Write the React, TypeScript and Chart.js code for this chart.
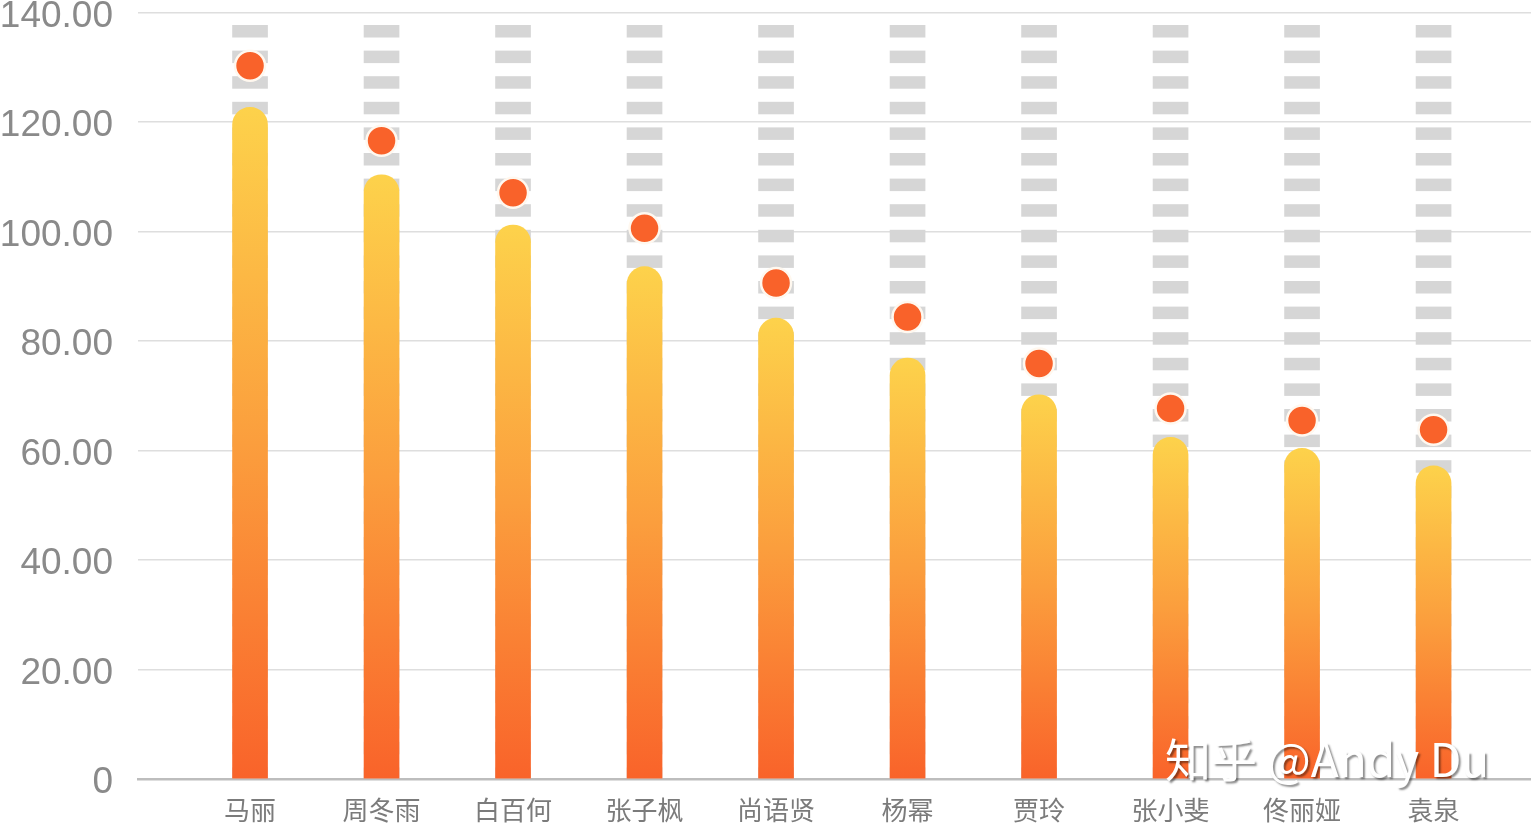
import React, { useEffect, useRef } from "react";
import { Chart, registerables } from "chart.js";

Chart.register(...registerables);

const categories = ["马丽", "周冬雨", "白百何", "张子枫", "尚语贤", "杨幂", "贾玲", "张小斐", "佟丽娅", "袁泉"];
const barValues = [122.7, 110.4, 101.2, 93.6, 84.2, 76.9, 70.2, 62.4, 60.4, 57.2];
const dotValues = [130.3, 116.6, 107.1, 100.6, 90.6, 84.4, 75.9, 67.7, 65.5, 63.8];
const trackValues = [138, 138, 138, 138, 138, 138, 138, 138, 138, 138];
const yTicks = [0, 20, 40, 60, 80, 100, 120, 140];
const watermark = "知乎 @Andy Du";

function makeDashPattern(ctx: CanvasRenderingContext2D): CanvasPattern | string {
  const c = document.createElement("canvas");
  c.width = 8;
  c.height = 128;
  const p = c.getContext("2d");
  if (!p) return "#d6d6d6";
  p.fillStyle = "#d6d6d6";
  for (let k = 0; k < 5; k++) {
    const y = (25 + 25.6 * k) % 128;
    p.fillRect(0, y, 8, 12.5);
    if (y + 12.5 > 128) p.fillRect(0, y - 128, 8, 12.5);
  }
  return ctx.createPattern(c, "repeat") || "#d6d6d6";
}

export default function App() {
  const ref = useRef<HTMLCanvasElement | null>(null);

  useEffect(() => {
    const canvas = ref.current;
    if (!canvas) return;
    const c2d = canvas.getContext("2d")!;
    const pattern = makeDashPattern(c2d);

    const toPoints = (arr: number[]) => arr.map((v, i) => ({ x: i, y: v }));

    const gradientFill = (ctx: any) => {
      const chart = ctx.chart;
      if (!chart.chartArea || !ctx.raw) return "#fb9a3c";
      const ys = chart.scales.y;
      const top = ys.getPixelForValue(ctx.raw.y);
      const bottom = ys.getPixelForValue(0);
      const g = chart.ctx.createLinearGradient(0, top, 0, bottom);
      g.addColorStop(0, "#fdd24b");
      g.addColorStop(0.5, "#fb9e3d");
      g.addColorStop(1, "#f9632a");
      return g;
    };

    const watermarkPlugin = {
      id: "watermark",
      afterDraw(chart: any) {
        const ctx = chart.ctx;
        ctx.save();
        ctx.font = '46px "Noto Sans CJK SC", "Liberation Sans", sans-serif';
        ctx.textBaseline = "alphabetic";
        ctx.textAlign = "left";
        ctx.shadowColor = "rgba(0,0,0,0.45)";
        ctx.shadowOffsetX = 2;
        ctx.shadowOffsetY = 2;
        ctx.shadowBlur = 2;
        ctx.fillStyle = "#ffffff";
        ctx.fillText(watermark, 1165, 777);
        ctx.restore();
      },
    };

    const chart = new Chart(canvas, {
      type: "bar",
      data: {
        datasets: [
          {
            type: "line",
            data: toPoints(dotValues),
            showLine: false,
            pointRadius: 15,
            pointHoverRadius: 15,
            pointBackgroundColor: "#f9622a",
            pointBorderColor: "#fff8ef",
            pointBorderWidth: 2.5,
            clip: false,
            order: 0,
          } as any,
          {
            type: "bar",
            data: toPoints(barValues),
            backgroundColor: gradientFill,
            barThickness: 35,
            borderRadius: 18,
            borderSkipped: "start",
            grouped: false,
            order: 1,
          } as any,
          {
            type: "bar",
            data: toPoints(trackValues),
            backgroundColor: pattern as any,
            barThickness: 35,
            grouped: false,
            order: 2,
          } as any,
        ],
      },
      options: {
        animation: false,
        responsive: true,
        maintainAspectRatio: false,
        layout: { autoPadding: false, padding: { top: 12.7, left: 0, right: 0, bottom: 0 } },
        plugins: { legend: { display: false }, tooltip: { enabled: false } },
        scales: {
          x: {
            type: "linear",
            offset: false,
            min: -0.852,
            max: 9.741,
            grid: { display: false, drawTicks: false, offset: false },
            border: { display: true, color: "#bdbdbd", width: 2.5 },
            afterBuildTicks: (s: any) => {
              s.ticks = categories.map((_, i) => ({ value: i }));
            },
            ticks: {
              autoSkip: false,
              maxRotation: 0,
              minRotation: 0,
              padding: 16,
              color: "#7b7b7b",
              font: { family: '"Noto Sans CJK SC", sans-serif', size: 26 },
              callback: (v: any) => {
                const i = Math.round(Number(v));
                return i >= 0 && i < categories.length ? categories[i] : "";
              },
            },
            afterFit: (s: any) => {
              s.height = 50;
              s.paddingLeft = 0;
              s.paddingRight = 0;
            },
          },
          y: {
            min: 0,
            max: 140,
            afterBuildTicks: (s: any) => {
              s.ticks = yTicks.map((v) => ({ value: v }));
            },
            grid: { color: "#dedede", lineWidth: 1.5, drawTicks: false },
            border: { display: false },
            ticks: {
              padding: 25,
              labelOffset: 4,
              color: "#8a8a8a",
              font: { family: '"Liberation Sans", Arial, sans-serif', size: 37 },
              callback: (v: any) => (v === 0 ? "0" : Number(v).toFixed(2)),
            },
            afterFit: (s: any) => {
              s.width = 138;
              s.paddingTop = 0;
              s.paddingBottom = 0;
            },
          },
        },
      },
      plugins: [watermarkPlugin],
    });

    return () => chart.destroy();
  }, []);

  return (
    <div style={{ position: "fixed", left: 0, top: 0, width: 1531, height: 829, background: "#fff" }}>
      <canvas ref={ref} />
    </div>
  );
}
